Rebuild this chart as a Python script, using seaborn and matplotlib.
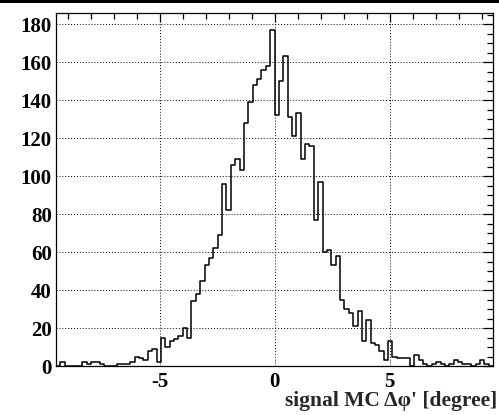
import numpy as np
import pandas as pd
import matplotlib
matplotlib.use("Agg")
import matplotlib.pyplot as plt
import seaborn as sns
from matplotlib.ticker import MultipleLocator
from matplotlib.patches import Rectangle

# ---- data ----
x_min, x_max, n_bins = -9.5, 9.5, 100
counts = [
    0, 2, 0, 0, 0, 0, 2, 1, 2, 2,
    1, 0, 0, 0, 1, 1, 1, 2, 5, 4,
    3, 8, 9, 2, 15, 10, 13, 14, 16, 20,
    15, 34, 38, 45, 53, 57, 62, 69, 96, 82,
    106, 109, 103, 128, 139, 148, 151, 156, 158, 177,
    132, 150, 163, 131, 121, 133, 109, 117, 116, 77,
    97, 60, 61, 53, 58, 35, 30, 28, 21, 29,
    13, 24, 12, 11, 8, 3, 13, 5, 4, 4,
    4, 0, 6, 3, 1, 0, 1, 2, 1, 0,
    1, 3, 2, 1, 1, 0, 1, 3, 1, 0,
]
x_ticks = [-5, 0, 5]
y_ticks = [0, 20, 40, 60, 80, 100, 120, 140, 160, 180]
x_label = "signal MC \u0394\u03c6' [degree]"
y_max = 185.8

edges = np.linspace(x_min, x_max, n_bins + 1)
centers = (edges[:-1] + edges[1:]) / 2
df = pd.DataFrame({"dphi": centers, "n": counts})

sns.set_theme(style="white")
plt.rcParams["font.family"] = ["Liberation Serif", "DejaVu Serif"]
plt.rcParams["font.weight"] = "bold"

W, H = 499, 415
fig = plt.figure(figsize=(W / 100, H / 100), dpi=100)
fig.patch.set_facecolor("white")
ax = fig.add_axes([56 / W, 49 / H, 437 / W, 353 / H])
ax.set_facecolor("white")

sns.histplot(data=df, x="dphi", weights="n", bins=n_bins,
             binrange=(x_min, x_max), element="step",
             fill=False, color="black", linewidth=1.1, ax=ax)

ax.set_xlim(x_min, x_max)
ax.set_ylim(0, y_max)
ax.set_xticks(x_ticks)
ax.set_yticks(y_ticks)
ax.xaxis.set_minor_locator(MultipleLocator(1))
ax.yaxis.set_minor_locator(MultipleLocator(5))
ax.set_xticklabels([str(t) for t in x_ticks], fontsize=15, fontweight="bold")
ax.set_yticklabels([str(t) for t in y_ticks], fontsize=15, fontweight="bold")
ax.tick_params(which="both", direction="in", top=True, right=True,
               colors="black", width=0.9)
ax.tick_params(axis="x", which="major", length=6.5, pad=4)
ax.tick_params(axis="x", which="minor", length=4)
ax.tick_params(axis="y", which="major", length=7.5, pad=3)
ax.tick_params(axis="y", which="minor", length=4)
ax.grid(True, which="major", linestyle=(0, (1, 2)), color="black", linewidth=0.7)
ax.set_axisbelow(False)
for s in ax.spines.values():
    s.set_visible(True)
    s.set_color("black")
    s.set_linewidth(0.9)
ax.set_xlabel("")
ax.set_ylabel("")

fig.text(497 / W, 1 - 391 / H, x_label, ha="right", va="top",
         fontsize=15.5, fontweight="bold")

fig.add_artist(Rectangle((0, 1 - 3 / H), 1, 3 / H, transform=fig.transFigure,
                         facecolor="black", edgecolor="none"))

fig.savefig("out.png", dpi=100)
